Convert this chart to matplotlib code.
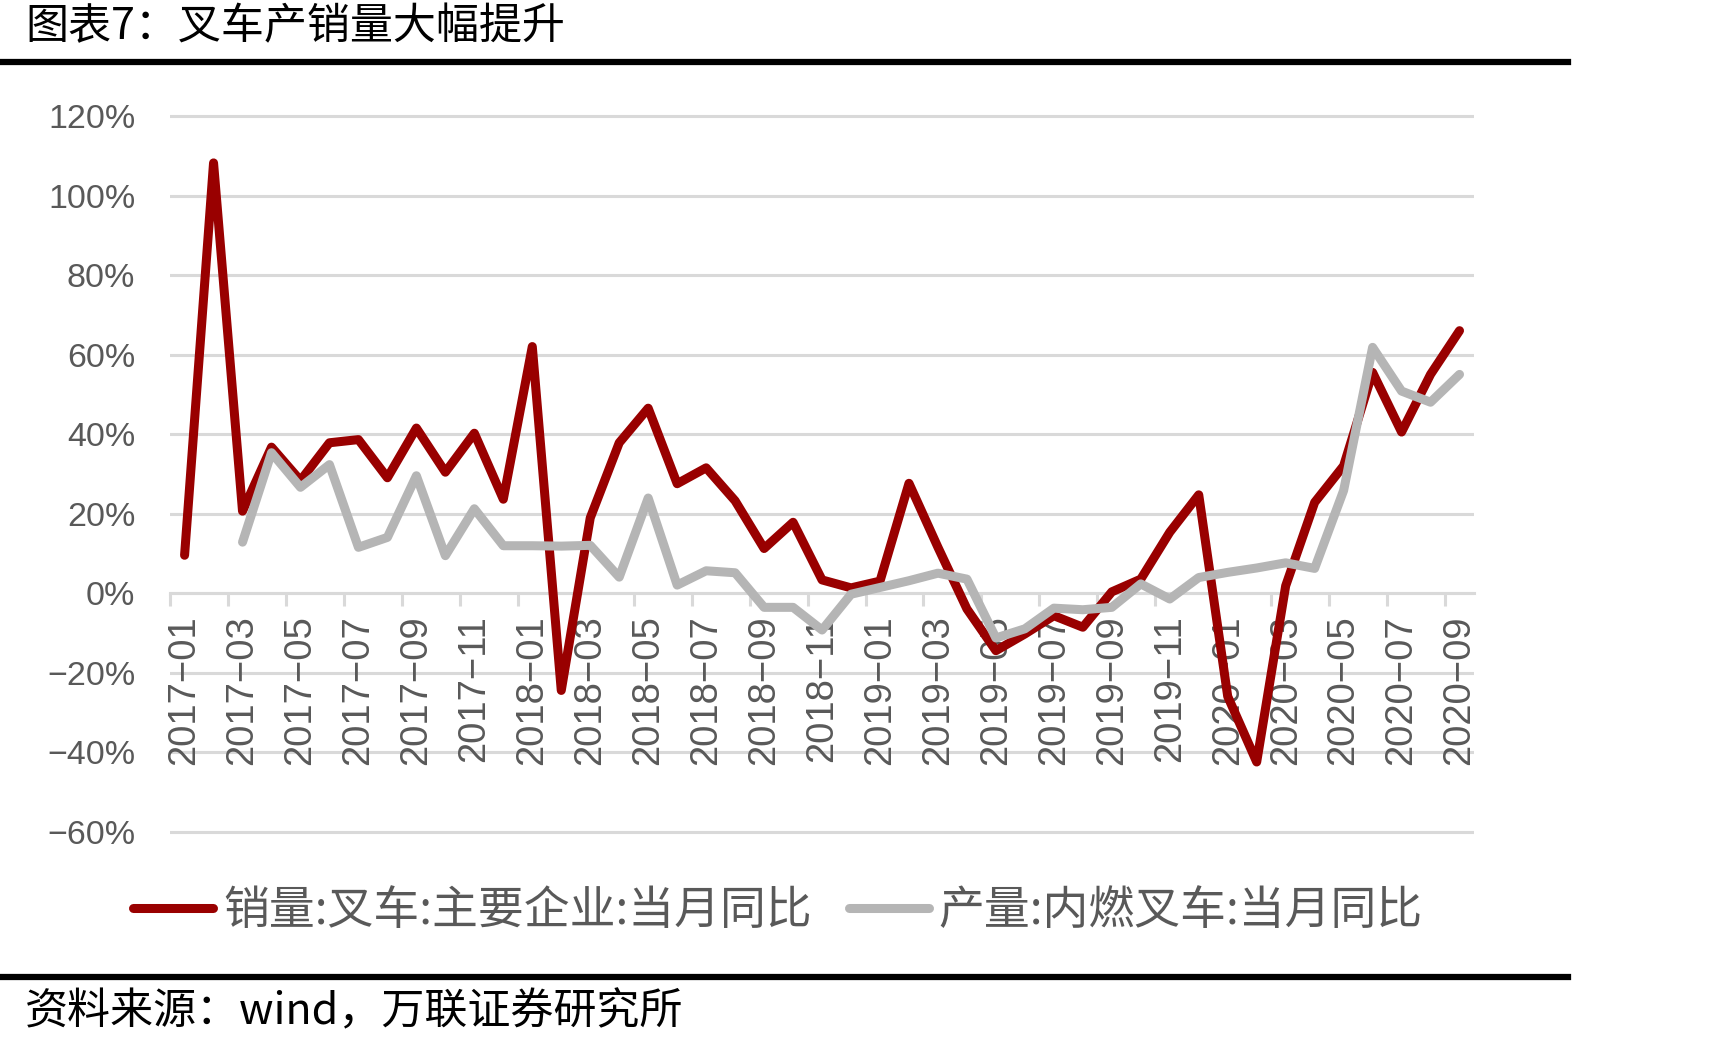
import numpy as np
import matplotlib
matplotlib.use("Agg")
import matplotlib.pyplot as plt
from matplotlib.lines import Line2D

# monthly categories 2017-01 .. 2020-09
months = [f"{y}-{m:02d}" for y in (2017, 2018, 2019, 2020) for m in range(1, 13)][:45]

# 销量:叉车:主要企业:当月同比 (%)
sales_yoy = [9.5, 108.2, 20.6, 36.7, 28.3, 37.8, 38.6, 29.0, 41.5, 30.4, 40.2, 23.6,
             62.0, -24.5, 18.9, 37.8, 46.5, 27.5, 31.5, 23.2, 11.2, 17.8, 3.3, 1.3,
             3.0, 27.6, 11.5, -4.0, -14.5, -10.3, -5.7, -8.6, 0.3, 3.5, 15.3, 24.7,
             -26.0, -42.5, 1.8, 22.8, 32.0, 55.5, 40.5, 55.0, 66.0]

# 产量:内燃叉车:当月同比 (%)
prod_yoy = [np.nan, np.nan, 12.8, 35.3, 26.6, 32.3, 11.5, 14.0, 29.5, 9.4, 21.2, 11.9,
            11.9, 11.8, 12.0, 4.0, 23.9, 2.0, 5.6, 5.1, -3.6, -3.6, -9.3, -0.3,
            1.4, 3.1, 5.0, 3.5, -11.3, -9.0, -3.8, -4.2, -3.6, 2.3, -1.5, 3.9,
            5.2, 6.3, 7.6, 6.2, 25.8, 61.8, 50.8, 48.0, 55.0]

y_ticks = [-60, -40, -20, 0, 20, 40, 60, 80, 100, 120]

title = "图表7：叉车产销量大幅提升"
source = "资料来源：wind，万联证券研究所"
names = ["销量:叉车:主要企业:当月同比", "产量:内燃叉车:当月同比"]

RED = "#990000"
GRAY = "#b5b5b5"
GRID = "#d9d9d9"
TXT = "#595959"
CJK = ["Noto Sans CJK SC", "DejaVu Sans"]
NUM = ["Liberation Sans", "DejaVu Sans"]

fig = plt.figure(figsize=(17.25, 10.49), dpi=100)
ax = fig.add_axes([0.0986, 0.2035, 0.7559, 0.6897])

x = np.arange(len(months))
ax.plot(x, sales_yoy, color=RED, lw=6.5, zorder=3,
        solid_capstyle="round", solid_joinstyle="round")
ax.plot(x, prod_yoy, color=GRAY, lw=6.5, zorder=4,
        solid_capstyle="round", solid_joinstyle="round")

ax.set_xlim(-0.5, len(months) - 0.5)
ax.set_ylim(-61, 121)
ax.set_axisbelow(True)
# x labels on top of the y gridlines, still under the series
ax.yaxis.set_zorder(0.5)
ax.xaxis.set_zorder(0.8)

# y axis
ax.set_yticks(y_ticks)
ax.set_yticklabels([f"{v}%".replace("-", "\u2212") for v in y_ticks],
                   family=NUM, fontsize=24.5, color=TXT)
ax.yaxis.grid(True, color=GRID, lw=2.2)
ax.tick_params(axis="y", length=0, pad=25)

# x axis sits at 0
for s in ("left", "right", "top"):
    ax.spines[s].set_visible(False)
ax.spines["bottom"].set_position(("data", 0))
ax.spines["bottom"].set_color(GRID)
ax.spines["bottom"].set_linewidth(2.2)
ax.spines["bottom"].set_zorder(1)

ax.set_xticks(np.arange(-0.5, len(months) - 1, 2))
ax.tick_params(axis="x", which="major", direction="out", length=9.5, width=2.2,
               color=GRID, labelbottom=False)
ax.set_xticks(x[::2], minor=True)
ax.set_xticklabels([m.replace("-", "\u2212") for m in months[::2]], minor=True,
                   rotation=90, family=NUM, fontsize=27.5, color=TXT)
ax.tick_params(axis="x", which="minor", length=0, pad=16)

# legend
handles = [Line2D([], [], color=RED, lw=6.5, solid_capstyle="round"),
           Line2D([], [], color=GRAY, lw=6.5, solid_capstyle="round")]
leg = fig.legend(handles, names, loc="center", bbox_to_anchor=(0.451, 0.1316), ncol=2,
                 frameon=False, handlelength=1.75, handletextpad=0.22,
                 columnspacing=0.8, prop={"family": CJK, "size": 33})
for t in leg.get_texts():
    t.set_color(TXT)

# title, rules, source
fig.text(0.0145, 0.974, title, family=CJK, fontsize=31, va="center", ha="left")
fig.add_artist(Line2D([0, 0.909], [0.941, 0.941], color="black", lw=4.5))
fig.add_artist(Line2D([0, 0.909], [0.0686, 0.0686], color="black", lw=4.5))
fig.text(0.0145, 0.035, source, family=CJK, fontsize=31, va="center", ha="left")

fig.savefig("out.png", dpi=100)
